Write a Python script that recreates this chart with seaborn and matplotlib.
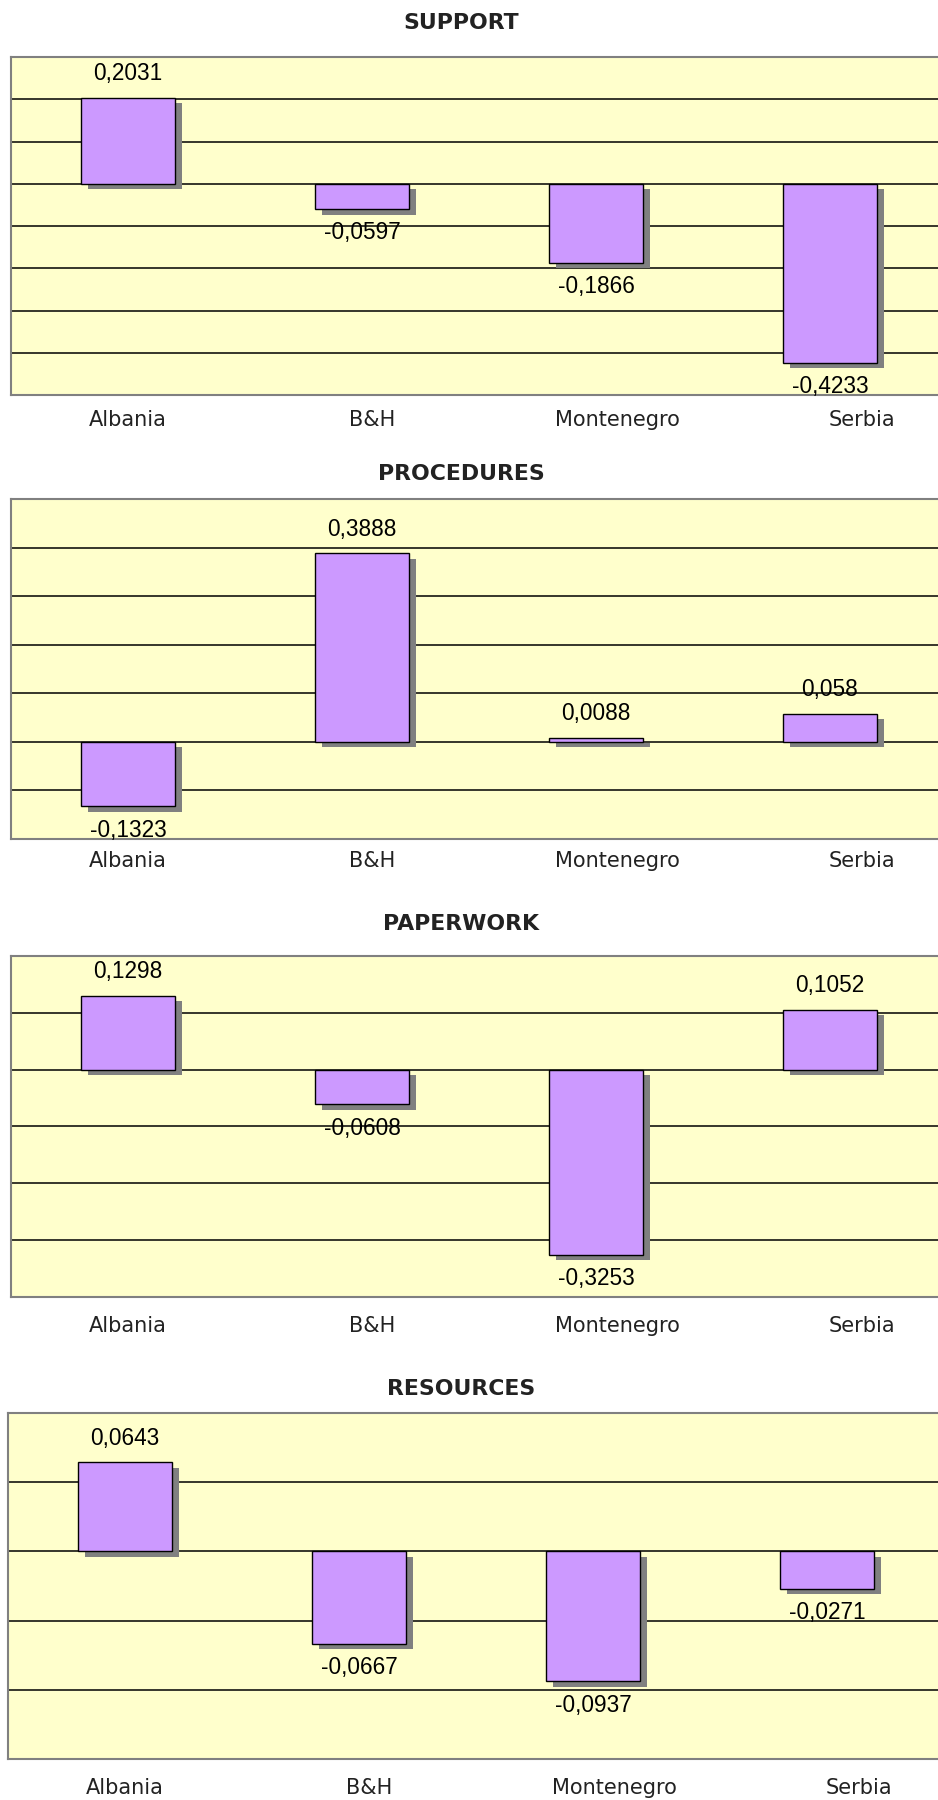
import pandas as pd
import matplotlib
matplotlib.use("Agg")
from matplotlib import pyplot as plt
from matplotlib.ticker import MultipleLocator
import matplotlib.patheffects as pe
import seaborn as sns

categories = ['Albania', 'B&H', 'Montenegro', 'Serbia']
support = [0.2031, -0.0597, -0.1866, -0.4233]
procedures = [-0.1323, 0.3888, 0.0088, 0.058]
paperwork = [0.1298, -0.0608, -0.3253, 0.1052]
resources = [0.0643, -0.0667, -0.0937, -0.0271]
titles = ['SUPPORT', 'PROCEDURES', 'PAPERWORK', 'RESOURCES']

W, H = 938, 1800
# (left, top, bottom, title_y) in pixels, plus ylim / grid step / tick pad
panels = [
    (support, 11, 57, 395, 23, (-0.5, 0.3), 0.1, 10.5),
    (procedures, 11, 499, 839, 474, (-0.2, 0.5), 0.1, 8.5),
    (paperwork, 11, 956, 1297, 924, (-0.4, 0.2), 0.1, 14),
    (resources, 8, 1413, 1759, 1389, (-0.15, 0.1), 0.05, 14),
]

sns.set_style('white')
plt.rcParams['font.family'] = ['DejaVu Sans']

fig = plt.figure(figsize=(W / 100, H / 100), dpi=100)
fig.patch.set_facecolor('white')

for (vals, left, top, bottom, ty, ylim, step, pad), title in zip(panels, titles):
    ax = fig.add_axes([left / W, 1 - bottom / H, 936 / W, (bottom - top) / H])
    df = pd.DataFrame({'country': categories, 'value': vals})
    sns.barplot(data=df, x='country', y='value', color='#CC99FF',
                edgecolor='black', linewidth=1.0, width=0.4, saturation=1, ax=ax)
    for p in ax.patches:
        p.set_path_effects([pe.SimplePatchShadow(offset=(5, -4), shadow_rgbFace='#808080', alpha=1.0),
                            pe.Normal()])
    ax.set_facecolor('#FFFFCC')
    ax.set_xlim(-0.5, 3.5)
    ax.set_ylim(*ylim)
    ax.yaxis.set_major_locator(MultipleLocator(step))
    ax.grid(axis='y', color='black', linewidth=1.1)
    ax.set_axisbelow(True)
    ax.set_yticklabels([])
    # category labels sit a little wider apart than the bars
    ax.set_xticks([i * 1.045 for i in range(len(categories))], categories)
    ax.tick_params(axis='both', length=0)
    ax.tick_params(axis='x', labelsize=15, pad=pad, labelcolor='#222222')
    ax.set_xlabel('')
    ax.set_ylabel('')
    for s in ax.spines.values():
        s.set_color('#808080')
        s.set_linewidth(1.5)
    labels = [str(v).replace('.', ',') for v in vals]
    ax.bar_label(ax.containers[0], labels=labels, padding=9,
                 fontsize=16.3, family='Liberation Sans', color='black')
    fig.text(461 / W, 1 - ty / H, title, ha='center', va='center',
             fontsize=15.8, fontweight='bold', color='#222222')

fig.savefig('out.png', dpi=100)
